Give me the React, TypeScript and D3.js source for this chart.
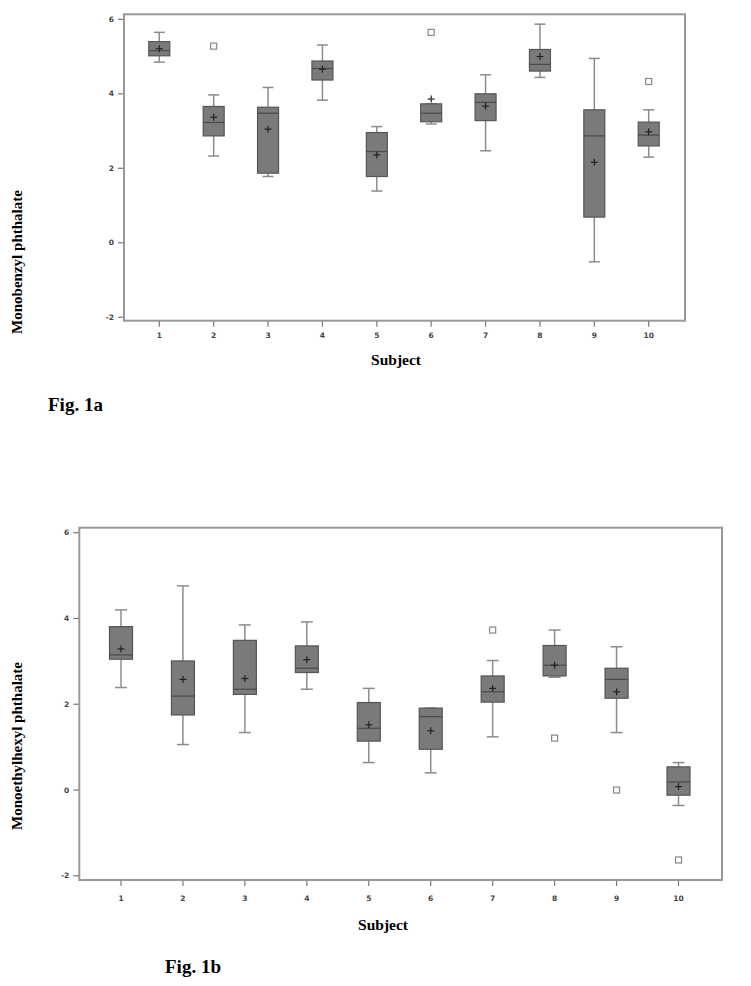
import React from "react";
import * as d3 from "d3";

const subjects = [1, 2, 3, 4, 5, 6, 7, 8, 9, 10];
const yTicks = [-2, 0, 2, 4, 6];

// Fig 1a: Monobenzyl phthalate
const aWhiskerLow = [4.85, 2.33, 1.78, 3.83, 1.39, 3.19, 2.47, 4.44, -0.51, 2.30];
const aQ1 = [5.02, 2.87, 1.87, 4.37, 1.78, 3.25, 3.28, 4.61, 0.69, 2.60];
const aMedian = [5.16, 3.23, 3.48, 4.68, 2.45, 3.48, 3.77, 4.79, 2.87, 2.89];
const aQ3 = [5.40, 3.66, 3.64, 4.88, 2.96, 3.73, 4.00, 5.19, 3.57, 3.24];
const aWhiskerHigh = [5.65, 3.97, 4.17, 5.31, 3.12, 3.73, 4.51, 5.87, 4.95, 3.57];
const aMean = [5.21, 3.37, 3.05, 4.66, 2.36, 3.86, 3.67, 5.00, 2.16, 2.98];
const aOutlierSubject = [2, 6, 10];
const aOutlierValue = [5.28, 5.65, 4.33];

// Fig 1b: Monoethylhexyl phthalate
const bWhiskerLow = [2.39, 1.06, 1.34, 2.35, 0.64, 0.40, 1.24, 2.63, 1.34, -0.36];
const bQ1 = [3.05, 1.75, 2.23, 2.74, 1.14, 0.95, 2.05, 2.66, 2.14, -0.12];
const bMedian = [3.15, 2.19, 2.35, 2.84, 1.44, 1.71, 2.29, 2.91, 2.58, 0.19];
const bQ3 = [3.81, 3.01, 3.49, 3.36, 2.04, 1.91, 2.66, 3.37, 2.84, 0.54];
const bWhiskerHigh = [4.20, 4.76, 3.85, 3.92, 2.37, 1.91, 3.02, 3.73, 3.34, 0.64];
const bMean = [3.29, 2.58, 2.60, 3.04, 1.52, 1.38, 2.37, 2.91, 2.29, 0.08];
const bOutlierSubject = [7, 8, 9, 10];
const bOutlierValue = [3.73, 1.21, 0.0, -1.63];

type PanelProps = {
  frame: { x0: number; x1: number; y0: number; y1: number };
  xr: [number, number];
  yr: [number, number];
  boxW: number;
  capW: number;
  lo: number[]; q1: number[]; med: number[]; q3: number[]; hi: number[]; mean: number[];
  oS: number[]; oV: number[];
  tickLabelOffset: number;
  xLabelY: number;
};

function Panel(p: PanelProps) {
  const x = d3.scaleLinear().domain([1, 10]).range(p.xr);
  const y = d3.scaleLinear().domain([-2, 6]).range(p.yr);
  const f = p.frame;
  const gray = "#8c8c8c";
  return (
    <g>
      {/* y ticks */}
      {yTicks.map((t) => (
        <g key={"y" + t}>
          <line x1={f.x0 - 6} x2={f.x0} y1={y(t)} y2={y(t)} stroke="#777" strokeWidth={1.2} />
          <text x={f.x0 - 10} y={y(t)} dy="0.35em" textAnchor="end"
            fontFamily="DejaVu Sans, sans-serif" fontWeight="bold" fontSize={7.5} fill="#444">
            {t}
          </text>
        </g>
      ))}
      {/* x ticks */}
      {subjects.map((s) => (
        <g key={"x" + s}>
          <line x1={x(s)} x2={x(s)} y1={f.y1} y2={f.y1 + 6} stroke="#777" strokeWidth={1.2} />
          <text x={x(s)} y={f.y1 + p.tickLabelOffset} dy="0.35em" textAnchor="middle"
            fontFamily="DejaVu Sans, sans-serif" fontWeight="bold" fontSize={7.5} fill="#444">
            {s}
          </text>
        </g>
      ))}
      {/* boxes */}
      {subjects.map((s, i) => {
        const cx = x(s);
        return (
          <g key={"b" + s}>
            <line x1={cx} x2={cx} y1={y(p.hi[i])} y2={y(p.q3[i])} stroke={gray} strokeWidth={1.5} />
            <line x1={cx} x2={cx} y1={y(p.q1[i])} y2={y(p.lo[i])} stroke={gray} strokeWidth={1.5} />
            <line x1={cx - p.capW / 2} x2={cx + p.capW / 2} y1={y(p.hi[i])} y2={y(p.hi[i])} stroke={gray} strokeWidth={1.5} />
            <line x1={cx - p.capW / 2} x2={cx + p.capW / 2} y1={y(p.lo[i])} y2={y(p.lo[i])} stroke={gray} strokeWidth={1.5} />
            <rect x={cx - p.boxW / 2} width={p.boxW} y={y(p.q3[i])} height={y(p.q1[i]) - y(p.q3[i])}
              fill="#7a7a7a" stroke="#555" strokeWidth={1.2} />
            <line x1={cx - p.boxW / 2} x2={cx + p.boxW / 2} y1={y(p.med[i])} y2={y(p.med[i])} stroke="#4a4a4a" strokeWidth={1.2} />
            <line x1={cx - 3.5} x2={cx + 3.5} y1={y(p.mean[i])} y2={y(p.mean[i])} stroke="#222" strokeWidth={1.2} />
            <line x1={cx} x2={cx} y1={y(p.mean[i]) - 3.5} y2={y(p.mean[i]) + 3.5} stroke="#222" strokeWidth={1.2} />
          </g>
        );
      })}
      {/* outliers */}
      {p.oS.map((s, i) => (
        <rect key={"o" + i} x={x(s) - 3} y={y(p.oV[i]) - 3} width={6} height={6}
          fill="white" stroke="#888" strokeWidth={1.2} />
      ))}
      {/* frame */}
      <rect x={f.x0} y={f.y0} width={f.x1 - f.x0} height={f.y1 - f.y0} fill="none" stroke="#999" strokeWidth={2} />
    </g>
  );
}

export default function App() {
  const serif = "'Liberation Serif', 'Times New Roman', serif";
  return (
    <svg width={751} height={986} style={{ position: "absolute", left: 0, top: 0, background: "white" }}>
      <rect x={0} y={0} width={751} height={986} fill="white" />
      <Panel
        frame={{ x0: 124, x1: 685, y0: 14.3, y1: 320.7 }}
        xr={[159.3, 648.7]}
        yr={[317.3, 19.3]}
        boxW={21}
        capW={11}
        lo={aWhiskerLow} q1={aQ1} med={aMedian} q3={aQ3} hi={aWhiskerHigh} mean={aMean}
        oS={aOutlierSubject} oV={aOutlierValue}
        tickLabelOffset={15}
        xLabelY={360}
      />
      <text x={396} y={360} dy="0.35em" textAnchor="middle" fontFamily={serif} fontWeight="bold" fontSize={15.5}>Subject</text>
      <text transform="translate(17,262) rotate(-90)" dy="0.35em" textAnchor="middle" fontFamily={serif} fontWeight="bold" fontSize={15}>
        Monobenzyl phthalate
      </text>
      <text x={48} y={404} dy="0.35em" fontFamily={serif} fontWeight="bold" fontSize={19}>Fig. 1a</text>

      <Panel
        frame={{ x0: 79.3, x1: 722, y0: 527.7, y1: 880 }}
        xr={[121, 678.5]}
        yr={[875.8, 532.7]}
        boxW={23}
        capW={12}
        lo={bWhiskerLow} q1={bQ1} med={bMedian} q3={bQ3} hi={bWhiskerHigh} mean={bMean}
        oS={bOutlierSubject} oV={bOutlierValue}
        tickLabelOffset={18}
        xLabelY={925}
      />
      <text x={383} y={925} dy="0.35em" textAnchor="middle" fontFamily={serif} fontWeight="bold" fontSize={15.5}>Subject</text>
      <text transform="translate(17,746) rotate(-90)" dy="0.35em" textAnchor="middle" fontFamily={serif} fontWeight="bold" fontSize={15}>
        Monoethylhexyl phthalate
      </text>
      <text x={165} y={966} dy="0.35em" fontFamily={serif} fontWeight="bold" fontSize={19}>Fig. 1b</text>
    </svg>
  );
}
